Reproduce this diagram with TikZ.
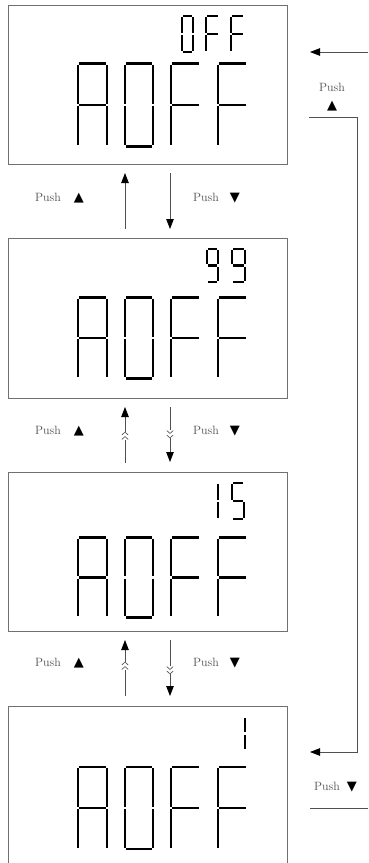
\documentclass[tikz,border=0pt]{standalone}
\usepackage{fontspec}
\newfontfamily\symfont{DejaVu Sans}
\usetikzlibrary{arrows.meta}
\definecolor{boxgray}{HTML}{707070}
\definecolor{linegray}{HTML}{505050}
\definecolor{txtgray}{HTML}{505050}
\newcommand\tri[1]{{\color{black}\fontsize{13}{14}\symfont #1}}
\tikzset{
  seg/.style={line width=2.2pt, shorten <=1.1pt, shorten >=1.1pt, black},
  box/.style={draw=boxgray, line width=1pt, minimum width=279pt, inner sep=0pt, outer sep=0pt},
  ln/.style={draw=linegray, line width=0.9pt},
  arr/.style={ln, -{Triangle[length=10pt,width=7.5pt,color=black]}},
  chev/.style={draw=linegray, line width=0.6pt},
  lbl/.style={font=\fontsize{12}{14}\selectfont, text=txtgray, inner sep=0pt},
  dA/.pic={\foreach \p/\q in {{0,0}/{1,0},{1,0}/{1,1},{1,1}/{1,2},{0,1}/{0,2},{0,0}/{0,1},{0,1}/{1,1}} \draw[seg] (\p) -- (\q);},
  dO/.pic={\foreach \p/\q in {{0,0}/{1,0},{1,0}/{1,1},{1,1}/{1,2},{0,2}/{1,2},{0,1}/{0,2},{0,0}/{0,1}} \draw[seg] (\p) -- (\q);},
  dF/.pic={\foreach \p/\q in {{0,0}/{1,0},{0,1}/{0,2},{0,0}/{0,1},{0,1}/{1,1}} \draw[seg] (\p) -- (\q);},
  dNine/.pic={\foreach \p/\q in {{0,0}/{1,0},{1,0}/{1,1},{1,1}/{1,2},{0,2}/{1,2},{0,0}/{0,1},{0,1}/{1,1}} \draw[seg] (\p) -- (\q);},
  dFive/.pic={\foreach \p/\q in {{0,0}/{1,0},{0,0}/{0,1},{0,1}/{1,1},{1,1}/{1,2},{0,2}/{1,2}} \draw[seg] (\p) -- (\q);},
  dOne/.pic={\foreach \p/\q in {{0,0}/{0,1},{0,1}/{0,2}} \draw[seg] (\p) -- (\q);},
  chevup/.pic={\draw[chev] (-3.2,3) -- (0,0) -- (3.2,3);},
  chevdn/.pic={\draw[chev] (-3.2,-3) -- (0,0) -- (3.2,-3);},
}
\begin{document}
\begin{tikzpicture}[x=1pt,y=-1pt]
\useasboundingbox (0,0) rectangle (368,863);
\clip (0,0) rectangle (368,863);
\fill[white] (0,0) rectangle (368,863);

% boxes
\node[box, minimum height=159pt] (b1) at (147.5,84.5) {};
\node[box, minimum height=160pt] (b2) at (147.5,318) {};
\node[box, minimum height=159pt] (b3) at (147.5,551.5) {};
\node[box, minimum height=164pt] (b4) at (147.5,788) {};

% box 1: 0FF / A0FF
\pic[xscale=11,yscale=18] at (182,16) {dO};
\pic[xscale=13,yscale=18] at (206,16) {dF};
\pic[xscale=13,yscale=18] at (231,16) {dF};
\pic[xscale=29,yscale=41.5] at (78,63.5) {dA};
\pic[xscale=28,yscale=41.5] at (125,63.5) {dO};
\pic[xscale=29,yscale=41.5] at (171,63.5) {dF};
\pic[xscale=29,yscale=41.5] at (218,63.5) {dF};

% box 2: 99 / A0FF
\pic[xscale=11,yscale=16.5] at (207,249) {dNine};
\pic[xscale=13,yscale=16.5] at (232,249) {dNine};
\pic[xscale=29,yscale=40.5] at (78,297.5) {dA};
\pic[xscale=28,yscale=40.5] at (125,297.5) {dO};
\pic[xscale=29,yscale=40.5] at (171,297.5) {dF};
\pic[xscale=29,yscale=40.5] at (218,297.5) {dF};

% box 3: 15 / A0FF
\pic[yscale=18] at (218,483) {dOne};
\pic[xscale=12,yscale=18] at (232,483) {dFive};
\pic[xscale=29,yscale=40] at (78,537.5) {dA};
\pic[xscale=28,yscale=40] at (125,537.5) {dO};
\pic[xscale=29,yscale=40] at (171,537.5) {dF};
\pic[xscale=29,yscale=40] at (218,537.5) {dF};

% box 4: 1 / A0FF
\pic[yscale=16.5] at (245,717) {dOne};
\pic[xscale=29,yscale=41] at (78,767) {dA};
\pic[xscale=28,yscale=41] at (125,767) {dO};
\pic[xscale=29,yscale=41] at (171,767) {dF};
\pic[xscale=29,yscale=41] at (218,767) {dF};

% arrows box1 <-> box2
\coordinate (u1t) at (125,229); \coordinate (u1h) at (125,173);
\coordinate (d1t) at (170,173); \coordinate (d1h) at (170,229);
\draw[arr] (u1t) -- (u1h);
\draw[arr] (d1t) -- (d1h);
\node[lbl, anchor=west] (l1) at (35,198) {Push\hspace{13pt}\tri{▲}};
\node[lbl, anchor=west] (r1) at (193,198) {Push\hspace{11pt}\tri{▼}};

% arrows box2 <-> box3
\coordinate (u2t) at (125,463); \coordinate (u2a) at (125,440);
\coordinate (u2b) at (125,432); \coordinate (u2h) at (125,407);
\draw[ln] (u2t) -- (u2a);
\draw[arr] (u2b) -- (u2h);
\pic at (125,432) {chevup};
\pic at (125,436.5) {chevup};
\coordinate (d2t) at (170,407); \coordinate (d2a) at (170,430);
\coordinate (d2b) at (170,438); \coordinate (d2h) at (170,462);
\draw[ln] (d2t) -- (d2a);
\draw[arr] (d2b) -- (d2h);
\pic at (170,433.5) {chevdn};
\pic at (170,438) {chevdn};
\node[lbl, anchor=west] (l2) at (35,431) {Push\hspace{13pt}\tri{▲}};
\node[lbl, anchor=west] (r2) at (193,431) {Push\hspace{11pt}\tri{▼}};

% arrows box3 <-> box4
\coordinate (u3t) at (125,696); \coordinate (u3a) at (125,670);
\coordinate (u3b) at (125,662); \coordinate (u3h) at (125,640);
\draw[ln] (u3t) -- (u3a);
\draw[arr] (u3b) -- (u3h);
\pic at (125,662) {chevup};
\pic at (125,666.5) {chevup};
\coordinate (d3t) at (170,640); \coordinate (d3a) at (170,666);
\coordinate (d3b) at (170,674); \coordinate (d3h) at (170,696);
\draw[ln] (d3t) -- (d3a);
\draw[arr] (d3b) -- (d3h);
\pic at (170,669.5) {chevdn};
\pic at (170,674) {chevdn};
\node[lbl, anchor=west] (l3) at (35,663) {Push\hspace{13pt}\tri{▲}};
\node[lbl, anchor=west] (r3) at (193,663) {Push\hspace{11pt}\tri{▼}};

% right side loop
\coordinate (t0) at (368,52); \coordinate (t1) at (310,52);
\draw[arr] (t0) -- (t1);
\node[lbl, align=center] (lp) at (332,97) {Push\\[4pt]\tri{▲}};
\coordinate (p1) at (309,117); \coordinate (p2) at (357,117);
\coordinate (p3) at (357,752); \coordinate (p4) at (310,752);
\draw[arr] (p1) -- (p2) -- (p3) -- (p4);
\node[lbl, anchor=west] (lb) at (314,787) {Push\hspace{7pt}\tri{▼}};
\coordinate (q1) at (310,808); \coordinate (q2) at (368,808);
\draw[ln] (q1) -- (q2);
\end{tikzpicture}
\end{document}
